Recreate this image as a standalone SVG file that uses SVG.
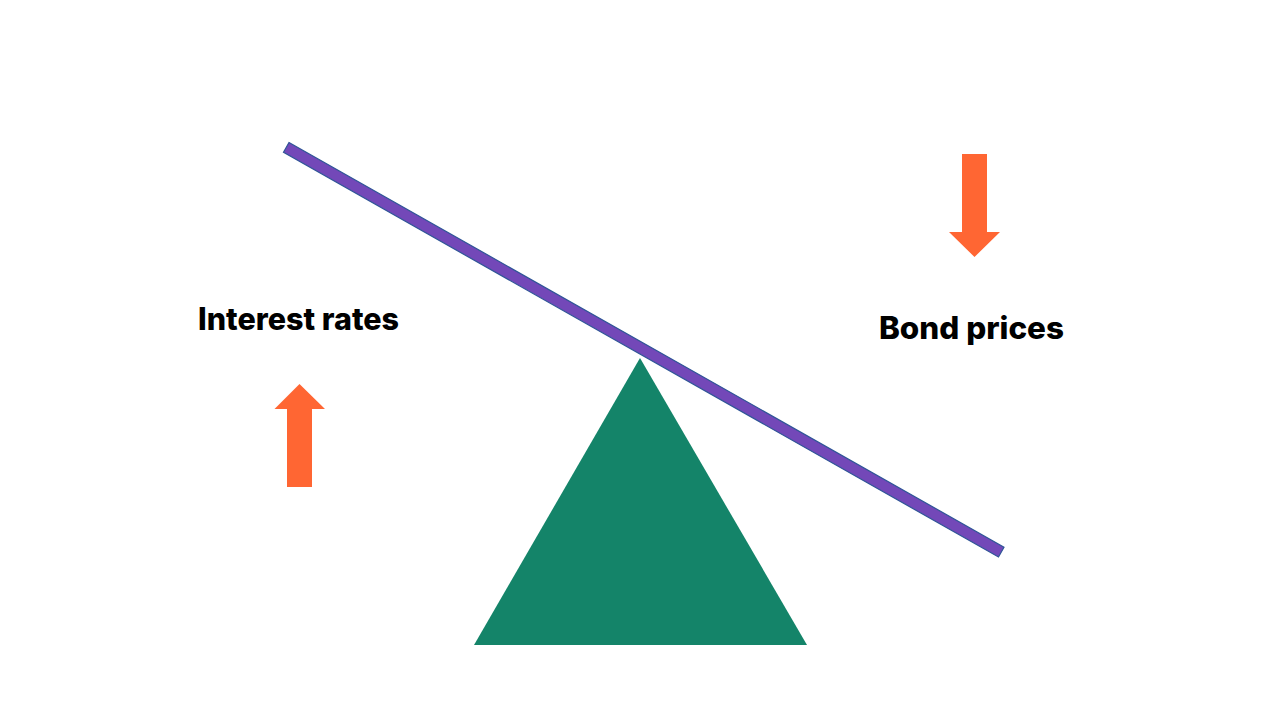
<svg xmlns="http://www.w3.org/2000/svg" width="1280" height="720" viewBox="0 0 1280 720">
<style>
.label{font-family:"Inter","Liberation Sans",sans-serif;font-weight:800;font-size:31px;fill:#000}
.arrow{fill:#FF6633}
</style>
<rect width="1280" height="720" fill="#fff"/>
<g id="fulcrum"><polygon points="640,358 807,645 474,645" fill="#148469"/></g>
<g id="beam"><polygon points="289,142.500 1004,547.200 998.500,557 283.500,152.300" fill="#7348B8" stroke="#2F5597" stroke-width="1.200"/></g>
<g id="arrow-up"><polygon class="arrow" points="299.500,384 325,409 312,409 312,487 287,487 287,409 274.500,409"/></g>
<g id="arrow-down"><polygon class="arrow" points="974.500,257 1000,232 987,232 987,154 962,154 962,232 949,232"/></g>
<g id="label-interest"><text class="label" x="198" y="329.500" textLength="201" lengthAdjust="spacingAndGlyphs">Interest rates</text></g>
<g id="label-bond"><text class="label" x="879" y="338.500" textLength="185" lengthAdjust="spacingAndGlyphs">Bond prices</text></g>
</svg>
